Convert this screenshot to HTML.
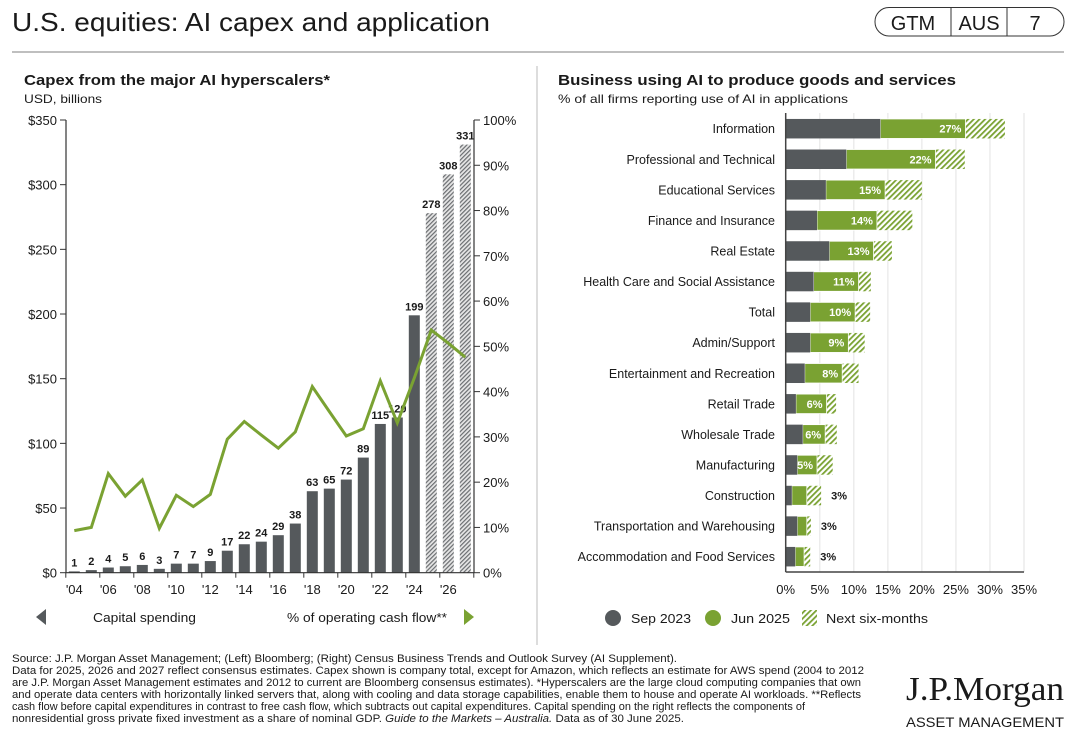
<!DOCTYPE html>
<html><head><meta charset="utf-8"><style>
html,body{margin:0;padding:0;background:#fff;}
svg text{font-family:"Liberation Sans",Arial,sans-serif;fill:#1a1a1a;}
</style></head><body>
<svg id="s" width="1084" height="746" viewBox="0 0 1084 746" xmlns="http://www.w3.org/2000/svg">
<defs>
<pattern id="hg" patternUnits="userSpaceOnUse" width="3" height="3" patternTransform="rotate(45)">
<rect width="3" height="3" fill="#e6e6e6"/><rect width="1.2" height="3" fill="#6a6d70"/></pattern>
<pattern id="hgr" patternUnits="userSpaceOnUse" width="4" height="4" patternTransform="rotate(45)">
<rect width="4" height="4" fill="#fff"/><rect width="1.8" height="4" fill="#7aa232"/></pattern>
</defs>
<text x="12" y="31" font-size="26" textLength="478" lengthAdjust="spacingAndGlyphs">U.S. equities: AI capex and application</text>
<g>
<rect x="875" y="7.5" width="189" height="28.5" rx="14" fill="none" stroke="#333" stroke-width="1"/>
<line x1="951" y1="8" x2="951" y2="36" stroke="#333"/><line x1="1007" y1="8" x2="1007" y2="36" stroke="#333"/>
<text x="913" y="30" font-size="20" text-anchor="middle">GTM</text>
<text x="979" y="30" font-size="20" text-anchor="middle">AUS</text>
<text x="1035" y="30" font-size="20" text-anchor="middle">7</text>
</g>
<line x1="12" y1="52" x2="1064" y2="52" stroke="#999" stroke-width="1.2"/>
<line x1="537" y1="66" x2="537" y2="645" stroke="#bbb" stroke-width="1"/>
<text x="24" y="85" font-size="15" font-weight="bold" textLength="306" lengthAdjust="spacingAndGlyphs">Capex from the major AI hyperscalers*</text>
<text x="24" y="103" font-size="12" textLength="78" lengthAdjust="spacingAndGlyphs">USD, billions</text>
<text x="558" y="85" font-size="15" font-weight="bold" textLength="398" lengthAdjust="spacingAndGlyphs">Business using AI to produce goods and services</text>
<text x="558" y="103" font-size="12" textLength="290" lengthAdjust="spacingAndGlyphs">% of all firms reporting use of AI in applications</text>
<g id="left"></g>
<g id="right"></g>
<g>
<polygon points="36,617 46,609 46,625" fill="#55595c"/>
<text x="93" y="622" font-size="13" textLength="103" lengthAdjust="spacingAndGlyphs">Capital spending</text>
<text x="287" y="622" font-size="13" textLength="160" lengthAdjust="spacingAndGlyphs">% of operating cash flow**</text>
<polygon points="464,609 474,617 464,625" fill="#7aa232"/>
</g>
<g>
<circle cx="613" cy="618" r="8" fill="#55595c"/>
<text x="631" y="623" font-size="13" textLength="60" lengthAdjust="spacingAndGlyphs">Sep 2023</text>
<circle cx="713" cy="618" r="8" fill="#7aa232"/>
<text x="731" y="623" font-size="13" textLength="59" lengthAdjust="spacingAndGlyphs">Jun 2025</text>
<rect x="802" y="610" width="15" height="16" fill="url(#hgr)"/>
<text x="826" y="623" font-size="13" textLength="102" lengthAdjust="spacingAndGlyphs">Next six-months</text>
</g>
<g font-size="11">
<text x="12" y="662" textLength="665" lengthAdjust="spacingAndGlyphs">Source: J.P. Morgan Asset Management; (Left) Bloomberg; (Right) Census Business Trends and Outlook Survey (AI Supplement).</text>
<text x="12" y="674" textLength="852" lengthAdjust="spacingAndGlyphs">Data for 2025, 2026 and 2027 reflect consensus estimates. Capex shown is company total, except for Amazon, which reflects an estimate for AWS spend (2004 to 2012</text>
<text x="12" y="686" textLength="849" lengthAdjust="spacingAndGlyphs">are J.P. Morgan Asset Management estimates and 2012 to current are Bloomberg consensus estimates). *Hyperscalers are the large cloud computing companies that own</text>
<text x="12" y="698" textLength="849" lengthAdjust="spacingAndGlyphs">and operate data centers with horizontally linked servers that, along with cooling and data storage capabilities, enable them to house and operate AI workloads. **Reflects</text>
<text x="12" y="710" textLength="793" lengthAdjust="spacingAndGlyphs">cash flow before capital expenditures in contrast to free cash flow, which subtracts out capital expenditures. Capital spending on the right reflects the components of</text>
<text x="12" y="722" textLength="672" lengthAdjust="spacingAndGlyphs">nonresidential gross private fixed investment as a share of nominal GDP. <tspan font-style="italic">Guide to the Markets – Australia.</tspan> Data as of 30 June 2025.</text>
</g>
<g>
<text x="1064" y="700" font-size="34" text-anchor="end" textLength="158" lengthAdjust="spacingAndGlyphs" style="font-family:'Liberation Serif',serif">J.P.Morgan</text>
<text x="1064" y="727" font-size="14" text-anchor="end" textLength="158" lengthAdjust="spacingAndGlyphs">ASSET MANAGEMENT</text>
</g>
</svg>
<script>
const years = ["'04","'05","'06","'07","'08","'09","'10","'11","'12","'13","'14","'15","'16","'17","'18","'19","'20","'21","'22","'23","'24","'25","'26","'27"];
const capex = [1,2,4,5,6,3,7,7,9,17,22,24,29,38,63,65,72,89,115,120,199,278,308,331];
const estimateFrom = 21;
const cashFlowPct = [9.3,10.0,21.9,16.9,20.5,9.8,17.1,14.6,17.3,29.5,33.4,30.4,27.5,31.1,41.1,35.6,30.2,31.8,42.4,33.1,43,53.6,50.7,47.6];
const leftTicks = ["$0","$50","$100","$150","$200","$250","$300","$350"];
const leftTickVals = [0,50,100,150,200,250,300,350];
const rightTickVals = [0,10,20,30,40,50,60,70,80,90,100];

const sectors = ["Information","Professional and Technical","Educational Services","Finance and Insurance","Real Estate","Health Care and Social Assistance","Total","Admin/Support","Entertainment and Recreation","Retail Trade","Wholesale Trade","Manufacturing","Construction","Transportation and Warehousing","Accommodation and Food Services"];
const sep2023 = [13.9,8.9,5.9,4.6,6.4,4.1,3.6,3.6,2.8,1.5,2.5,1.7,0.9,1.7,1.4];
const jun2025 = [26.4,22.0,14.6,13.4,12.9,10.7,10.2,9.2,8.3,6.0,5.8,4.6,3.1,3.1,2.7];
const next6m = [32.2,26.3,20.0,18.6,15.6,12.5,12.4,11.6,10.7,7.4,7.5,6.9,5.2,3.7,3.6];
const junLabels = ["27%","22%","15%","14%","13%","11%","10%","9%","8%","6%","6%","5%","3%","3%","3%"];
const xTickVals = [0,5,10,15,20,25,30,35];

const NS="http://www.w3.org/2000/svg";
function mk(tag,attrs,parent,txt){const e=document.createElementNS(NS,tag);for(const k in attrs)e.setAttribute(k,attrs[k]);if(txt!==undefined)e.textContent=txt;parent.appendChild(e);return e;}

// LEFT
const L=document.getElementById('left');
const x0=66, x1=474, yTop=120, yBot=572.7;
const yL=v=>yBot-(v/350)*(yBot-yTop);
const yR=v=>yBot-(v/100)*(yBot-yTop);
const step=(465.3-74.3)/(years.length-1);
const xC=i=>74.3+i*step;
leftTickVals.forEach((v,i)=>{
  mk('line',{x1:60,x2:x0,y1:yL(v),y2:yL(v),stroke:'#333'},L);
  const t=mk('text',{x:57,y:yL(v)+5,'font-size':13,'text-anchor':'end'},L,leftTicks[i]);
  
  
});
rightTickVals.forEach(v=>{
  mk('line',{x1:x1,x2:x1+6,y1:yR(v),y2:yR(v),stroke:'#333'},L);
  const t=mk('text',{x:x1+9,y:yR(v)+5,'font-size':13},L,v+'%');
  
  
});
capex.forEach((v,i)=>{
  const bw=11, top=yL(v);
  const r=mk('rect',{x:xC(i)-bw/2,y:top,width:bw,height:yBot-top,fill:i>=estimateFrom?'url(#hg)':'#55595c'},L);
  
  
  const t=mk('text',{x:xC(i),y:top-5,'font-size':11,'font-weight':'bold','text-anchor':'middle',fill:'#333'},L,String(v));
  
  
});
years.forEach((y,i)=>{
  const xb=xC(i)-step/2;
  if(i%2===0){
    mk('line',{x1:xb,x2:xb,y1:yBot,y2:yBot+5,stroke:'#333'},L);
    const t=mk('text',{x:xC(i),y:594,'font-size':13,'text-anchor':'middle'},L,y);
    
    
  }
});
mk('line',{x1:xC(years.length-1)+step/2,x2:xC(years.length-1)+step/2,y1:yBot,y2:yBot+5,stroke:'#333'},L);
mk('line',{x1:x0,x2:x0,y1:yTop,y2:yBot,stroke:'#333','stroke-width':1.2},L);
mk('line',{x1:x1,x2:x1,y1:yTop,y2:yBot,stroke:'#333','stroke-width':1.2},L);
mk('line',{x1:x0,x2:x1,y1:yBot,y2:yBot,stroke:'#333','stroke-width':1.2},L);
const pts=cashFlowPct.map((v,i)=>xC(i).toFixed(1)+','+yR(v).toFixed(1)).join(' ');
const pl=mk('polyline',{points:pts,fill:'none',stroke:'#7aa232','stroke-width':3,'stroke-linejoin':'miter'},L);



// RIGHT
const R=document.getElementById('right');
const rx0=785.7, rx35=1024, rTop=113, rBot=572;
const xR=v=>rx0+(v/35)*(rx35-rx0);
const rowY=i=>128.7+i*30.57;
xTickVals.forEach(v=>{
  if(v>0) mk('line',{x1:xR(v),x2:xR(v),y1:rTop,y2:rBot,stroke:'#ececec','stroke-width':1.5},R);
  const t=mk('text',{x:xR(v),y:594,'font-size':13,'text-anchor':'middle'},R,v+'%');
  
  
});
sectors.forEach((s,i)=>{
  const cy=rowY(i), h=19.5, y=cy-h/2;
  const t=mk('text',{x:775,y:cy+4.5,'font-size':12.5,'text-anchor':'end'},R,s);
  
  
  const h1=mk('rect',{x:xR(jun2025[i]),y:y,width:xR(next6m[i])-xR(jun2025[i]),height:h,fill:'url(#hgr)'},R);
  
  
  const g=mk('rect',{x:xR(sep2023[i]),y:y,width:xR(jun2025[i])-xR(sep2023[i]),height:h,fill:'#7aa232',stroke:'#fff','stroke-width':0.8},R);
  
  
  const d=mk('rect',{x:rx0,y:y,width:xR(sep2023[i])-rx0,height:h,fill:'#55595c'},R);
  
  
  const inside=jun2025[i]>=4.5;
  const lx=inside?xR(jun2025[i])-4:xR(next6m[i])+10;
  const lt=mk('text',{x:lx,y:cy+4,'font-size':11,'font-weight':'bold','text-anchor':inside?'end':'start',fill:inside?'#fff':'#222'},R,junLabels[i]);
  if(inside) lt.style.fill='#fff';
  
  
});
mk('line',{x1:rx0,x2:rx0,y1:rTop,y2:rBot,stroke:'#444','stroke-width':1.5},R);
mk('line',{x1:rx0,x2:rx35,y1:rBot,y2:rBot,stroke:'#444','stroke-width':1.5},R);
</script>
</body></html>
